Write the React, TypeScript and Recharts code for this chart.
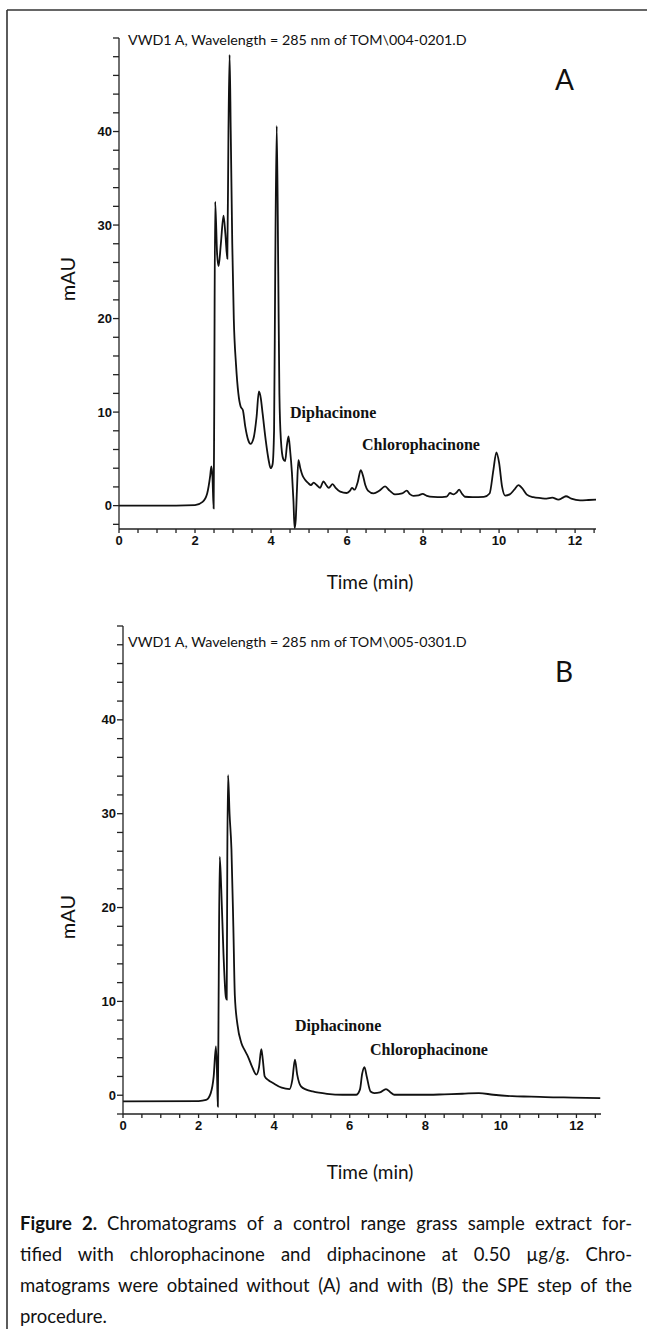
import { Line, LineChart, XAxis, YAxis } from 'recharts'

// chromatogram A (without SPE), time in min / signal in mAU
const timeA = [
  0, 1.5, 2.0, 2.2, 2.32, 2.4, 2.43, 2.46, 2.49, 2.505, 2.53, 2.58, 2.62, 2.68, 2.75, 2.8, 2.85, 2.88, 2.91, 2.94,
  2.98, 3.02, 3.08, 3.14, 3.2, 3.26, 3.32, 3.4, 3.46, 3.54, 3.62, 3.68, 3.73, 3.78, 3.86, 3.94, 3.99, 4.04, 4.08, 4.11,
  4.15, 4.19, 4.22, 4.26, 4.32, 4.37, 4.42, 4.46, 4.5, 4.55, 4.59, 4.62, 4.65, 4.68, 4.72, 4.77, 4.83, 4.89, 4.98, 5.05,
  5.12, 5.2, 5.29, 5.38, 5.45, 5.52, 5.62, 5.7, 5.82, 5.99, 6.08, 6.13, 6.2, 6.28, 6.36, 6.42, 6.48, 6.55, 6.7, 6.85,
  7.0, 7.12, 7.26, 7.45, 7.57, 7.66, 7.75, 7.88, 7.99, 8.1, 8.27, 8.5, 8.62, 8.71, 8.8, 8.88, 8.95, 9.02, 9.1, 9.3,
  9.6, 9.75, 9.85, 9.93, 10.0, 10.08, 10.16, 10.28, 10.4, 10.51, 10.6, 10.73, 10.9, 11.1, 11.25, 11.4, 11.56, 11.68, 11.76, 11.9,
  12.13, 12.35, 12.55,
]
const mauA = [
  0, 0, 0.05, 0.4, 1.3, 3.2, 4.2, 3.0, -0.3, 10, 32.5, 27, 25.6, 28, 31, 29, 26.4, 40, 48.2, 40,
  28, 20, 15, 12, 10.6, 10.2, 8.5, 7.0, 6.6, 7.2, 9.5, 12.2, 11.5, 9.8, 7.0, 4.8, 4.0, 4.4, 8, 25,
  40.6, 25, 12, 7, 5.0, 4.75, 6.5, 7.4, 6.0, 3.5, 0.5, -2.4, -1.5, 1.5, 4.85, 4.0, 3.2, 2.8, 2.4, 2.2,
  2.45, 2.2, 1.9, 2.6, 2.2, 1.9, 2.3, 1.9, 1.5, 1.35, 1.6, 1.9, 1.7, 2.5, 3.8, 3.2, 2.2, 1.6, 1.3, 1.6,
  2.05, 1.6, 1.2, 1.3, 1.6, 1.2, 1.05, 1.1, 1.25, 1.05, 0.93, 0.9, 0.95, 1.35, 1.2, 1.4, 1.7, 1.3, 0.95, 0.9,
  0.93, 1.3, 3.8, 5.7, 4.6, 2.0, 1.07, 1.2, 1.7, 2.2, 1.9, 1.18, 0.9, 0.8, 0.75, 0.85, 0.64, 0.85, 1.0, 0.75,
  0.57, 0.6, 0.64,
]

// chromatogram B (with SPE)
const timeB = [
  0, 2.0, 2.2, 2.32, 2.4, 2.46, 2.49, 2.51, 2.53, 2.56, 2.6, 2.66, 2.72, 2.745, 2.76, 2.78, 2.82, 2.87, 2.92, 2.96,
  3.03, 3.13, 3.22, 3.31, 3.42, 3.53, 3.6, 3.66, 3.7, 3.75, 3.85, 3.97, 4.2, 4.41, 4.48, 4.55, 4.61, 4.71, 4.85, 5.02,
  5.4, 5.81, 6.17, 6.27, 6.33, 6.39, 6.45, 6.55, 6.65, 6.8, 6.96, 7.08, 7.18, 7.6, 8.1, 8.5, 8.98, 9.42, 9.8, 10.3,
  10.8, 11.18, 11.9, 12.63,
]
const mauB = [
  -0.66, -0.62, -0.5, 0.2, 2.0, 5.2, 2.0, -1.2, 10, 25.4, 22, 15, 10.5, 10.2, 25, 34.1, 30, 26.2, 18, 10.6,
  7.5, 5.6, 4.8, 4.1, 3.0, 2.2, 3.0, 4.9, 3.8, 2.0, 1.6, 1.3, 0.8, 0.66, 1.6, 3.8, 2.2, 0.94, 0.6, 0.4,
  0.15, 0.05, 0.05, 0.6, 2.3, 3.0, 2.0, 0.4, 0.23, 0.3, 0.66, 0.3, 0.05, 0.05, 0.05, 0.1, 0.16, 0.23, 0.05, -0.1,
  -0.15, -0.2, -0.25, -0.3,
]

const yTicks = [-2, 0, 2, 4, 6, 8, 10, 12, 14, 16, 18, 20, 22, 24, 26, 28, 30, 32, 34, 36, 38, 40, 42, 44, 46, 48, 50]
const yLabels = [0, 10, 20, 30, 40]
const xTicks = [0, 0.5, 1, 1.5, 2, 2.5, 3, 3.5, 4, 4.5, 5, 5.5, 6, 6.5, 7, 7.5, 8, 8.5, 9, 9.5, 10, 10.5, 11, 11.5, 12, 12.5]
const xLabels = [0, 2, 4, 6, 8, 10, 12]

const captionLines = [
  'Chromatograms of a control range grass sample extract for-',
  'tified with chlorophacinone and diphacinone at 0.50 µg/g. Chro-',
  'matograms were obtained without (A) and with (B) the SPE step of the',
  'procedure.',
]

const axisColor = '#222'
const sans = 'Lato, "Open Sans", sans-serif'
const serif = 'Liberation Serif, serif'
const tickFont = { fill: '#111', fontSize: 13, fontWeight: 700, fontFamily: 'Liberation Sans, Arial, sans-serif' }

function Chromatogram({ time, mau, xMax, yMin, top, margin, xHeight }: {
  time: number[]; mau: number[]; xMax: number; yMin: number; top: number
  margin: { top: number; right: number; left: number; bottom: number }; xHeight: number
}) {
  const data = time.map((t, i) => ({ t, v: mau[i] }))
  return (
    <div style={{ position: 'absolute', left: 0, top }}>
      <LineChart width={647} height={560} data={data} margin={margin}>
        <XAxis
          dataKey="t"
          type="number"
          domain={[0, xMax]}
          ticks={xTicks}
          interval={0}
          tickFormatter={(v: number) => (xLabels.includes(v) ? String(v) : '')}
          tick={tickFont}
          tickSize={4}
          tickMargin={3}
          stroke={axisColor}
          strokeWidth={1.3}
          height={xHeight}
        />
        <YAxis
          type="number"
          domain={[yMin, 50]}
          ticks={yTicks}
          interval={0}
          tickFormatter={(v: number) => (yLabels.includes(v) ? String(v) : '')}
          tick={tickFont}
          tickSize={6}
          tickMargin={1}
          stroke={axisColor}
          strokeWidth={1.3}
          width={60}
          allowDataOverflow
        />
        <Line
          dataKey="v"
          type="monotone"
          stroke="#111"
          strokeWidth={1.8}
          dot={false}
          isAnimationActive={false}
        />
      </LineChart>
    </div>
  )
}

export default function App() {
  return (
    <div style={{ position: 'absolute', left: 0, top: 0, width: 647, height: 1329, background: '#fff', overflow: 'hidden' }}>
      <Chromatogram
        time={timeA}
        mau={mauA}
        xMax={12.55}
        yMin={-2.5}
        top={0}
        margin={{ top: 38, right: 51, left: 59, bottom: 0 }}
        xHeight={31}
      />
      <Chromatogram
        time={timeB}
        mau={mauB}
        xMax={12.65}
        yMin={-2}
        top={600}
        margin={{ top: 26, right: 46, left: 63, bottom: 0 }}
        xHeight={46}
      />
      <svg width={647} height={1329} style={{ position: 'absolute', left: 0, top: 0, pointerEvents: 'none' }}>
        <line x1={7} y1={10} x2={647} y2={10} stroke="#333" strokeWidth={1.6} />
        <line x1={7} y1={10} x2={7} y2={1329} stroke="#333" strokeWidth={1.6} />

        <text x={128} y={45} fontFamily={sans} fontSize={14.3} fill="#111">VWD1 A, Wavelength = 285 nm of TOM\004-0201.D</text>
        <text x={555} y={90} fontFamily={sans} fontSize={28} fill="#111">A</text>
        <text x={67} y={279} fontFamily={sans} fontSize={20} fill="#111" textAnchor="middle" transform="rotate(-90 67 279)" dominantBaseline="central">mAU</text>
        <text x={370} y={589} fontFamily={sans} fontSize={19} fill="#111" textAnchor="middle">Time (min)</text>
        <text x={290} y={418} fontFamily={serif} fontWeight={700} fontSize={16} fill="#111">Diphacinone</text>
        <text x={362} y={450} fontFamily={serif} fontWeight={700} fontSize={16} fill="#111">Chlorophacinone</text>

        <text x={128} y={647} fontFamily={sans} fontSize={14.3} fill="#111">VWD1 A, Wavelength = 285 nm of TOM\005-0301.D</text>
        <text x={555} y={682} fontFamily={sans} fontSize={28} fill="#111">B</text>
        <text x={67} y={917} fontFamily={sans} fontSize={20} fill="#111" textAnchor="middle" transform="rotate(-90 67 917)" dominantBaseline="central">mAU</text>
        <text x={370} y={1179} fontFamily={sans} fontSize={19} fill="#111" textAnchor="middle">Time (min)</text>
        <text x={295} y={1031} fontFamily={serif} fontWeight={700} fontSize={16} fill="#111">Diphacinone</text>
        <text x={370} y={1055} fontFamily={serif} fontWeight={700} fontSize={16} fill="#111">Chlorophacinone</text>
      </svg>
      <div style={{ position: 'absolute', left: 20, top: 1208, width: 612, fontFamily: sans, fontSize: 18.5, lineHeight: '31px', color: '#111' }}>
        {captionLines.map((line, i) => (
          <div key={i} style={{ textAlign: 'justify', textAlignLast: i < captionLines.length - 1 ? 'justify' : 'left', whiteSpace: 'nowrap' }}>
            {i === 0 && <b>Figure 2. </b>}
            {line}
          </div>
        ))}
      </div>
    </div>
  )
}
